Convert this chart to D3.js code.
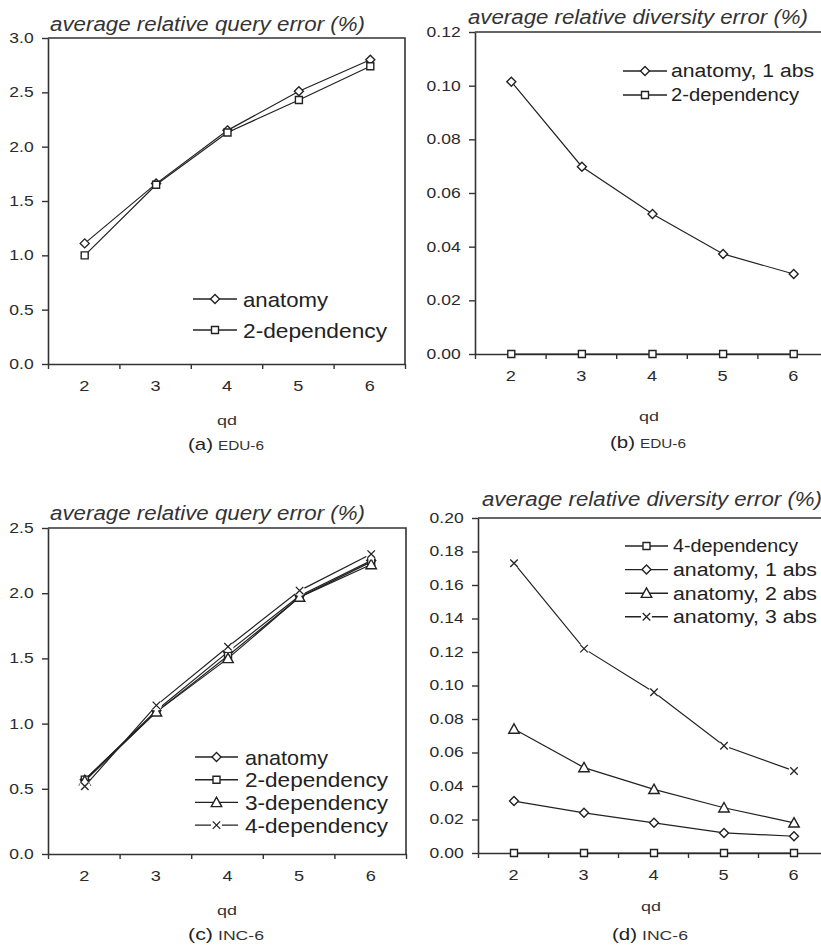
<!DOCTYPE html>
<html>
<head>
<meta charset="utf-8">
<script src="https://cdn.jsdelivr.net/npm/d3@7"></script>
<style>
  body { margin: 0; background: #fff; }
  svg { display: block; font-family: "Liberation Sans", Arial, sans-serif; }
</style>
</head>
<body>
<svg id="chart" width="821" height="949"></svg>
<script>
// ---- data ----
const qd = [2, 3, 4, 5, 6];

// (a) EDU-6, query error
const aAnatomy = [1.11, 1.66, 2.15, 2.51, 2.80];
const aDep2    = [1.00, 1.65, 2.13, 2.43, 2.74];

// (b) EDU-6, diversity error
const bAnatomy1 = [0.1015, 0.0698, 0.0522, 0.0373, 0.0298];
const bDep2     = [0, 0, 0, 0, 0];

// (c) INC-6, query error
const cAnatomy = [0.57, 1.10, 1.55, 1.98, 2.25];
const cDep2    = [0.57, 1.09, 1.52, 1.97, 2.24];
const cDep3    = [0.56, 1.09, 1.50, 1.97, 2.22];
const cDep4    = [0.52, 1.14, 1.59, 2.02, 2.30];

// (d) INC-6, diversity error
const dDep4     = [0, 0, 0, 0, 0];
const dAnatomy1 = [0.031, 0.024, 0.018, 0.012, 0.010];
const dAnatomy2 = [0.074, 0.051, 0.038, 0.027, 0.018];
const dAnatomy3 = [0.173, 0.122, 0.096, 0.064, 0.049];

const yTicksA = [0, 0.5, 1.0, 1.5, 2.0, 2.5, 3.0];
const yTicksB = [0, 0.02, 0.04, 0.06, 0.08, 0.10, 0.12];
const yTicksC = [0, 0.5, 1.0, 1.5, 2.0, 2.5];
const yTicksD = [0, 0.02, 0.04, 0.06, 0.08, 0.10, 0.12, 0.14, 0.16, 0.18, 0.20];

const titleQuery = "average relative query error (%)";
const titleDiv = "average relative diversity error (%)";

// ---- marker shapes ----
const diamond = { draw(ctx, size) { const r = Math.sqrt(size) / 2;
  ctx.moveTo(0, -r); ctx.lineTo(r, 0); ctx.lineTo(0, r); ctx.lineTo(-r, 0); ctx.closePath(); } };
const square = { draw(ctx, size) { const r = Math.sqrt(size) / 2;
  ctx.rect(-r, -r, 2 * r, 2 * r); } };
const triangle = { draw(ctx, size) { const r = Math.sqrt(size) / 2;
  ctx.moveTo(0, -r); ctx.lineTo(r, r * 0.8); ctx.lineTo(-r, r * 0.8); ctx.closePath(); } };
const cross = { draw(ctx, size) { const r = Math.sqrt(size) / 2;
  ctx.moveTo(-r, -r); ctx.lineTo(r, r); ctx.moveTo(r, -r); ctx.lineTo(-r, r); } };

const shapes = {
  diamond: { type: diamond, size: 81 },
  square: { type: square, size: 49 },
  triangle: { type: triangle, size: 110 },
  cross: { type: cross, size: 56 }
};

const svg = d3.select("#chart");
const ink = "#222";

function drawMarker(g, x, y, shape) {
  const s = shapes[shape];
  const p = d3.symbol().type(s.type).size(s.size)();
  if (shape === "cross") {
    g.append("circle").attr("cx", x).attr("cy", y).attr("r", 5.5).attr("fill", "#fff");
    g.append("path").attr("d", p).attr("transform", "translate(" + x + "," + y + ")")
      .attr("fill", "none").attr("stroke", ink).attr("stroke-width", 1.3);
  } else {
    g.append("path").attr("d", p).attr("transform", "translate(" + x + "," + y + ")")
      .attr("fill", "#fff").attr("stroke", ink).attr("stroke-width", 1.4);
  }
}

function fitText(g, x, y, str, size, width, opts) {
  opts = opts || {};
  const t = g.append("text").attr("x", x).attr("y", y)
    .attr("font-size", size).attr("fill", opts.fill || ink)
    .attr("text-anchor", opts.anchor || "start")
    .text(str);
  if (opts.italic) t.attr("font-style", "italic");
  if (width) t.attr("textLength", width).attr("lengthAdjust", "spacingAndGlyphs");
  return t;
}

function panel(cfg) {
  const g = svg.append("g");
  const x = d3.scaleLinear().domain([1.5, 6.5]).range([cfg.left, cfg.right]);
  const y = d3.scaleLinear().domain([0, cfg.yMax]).range([cfg.bottom, cfg.top]);

  // frame (top / right)
  g.append("path")
    .attr("d", "M" + cfg.left + "," + cfg.top + "H" + cfg.right + "V" + cfg.bottom)
    .attr("fill", "none").attr("stroke", "#333").attr("stroke-width", 1.6);

  // y axis
  const ya = g.append("g").attr("transform", "translate(" + cfg.left + ",0)")
    .call(d3.axisLeft(y).tickValues(cfg.yTicks).tickFormat(d3.format(cfg.yFmt))
      .tickSize(6).tickSizeOuter(0).tickPadding(5.5));
  ya.select(".domain").attr("stroke", "#333").attr("stroke-width", 1.6);
  ya.selectAll(".tick line").attr("stroke", "#333").attr("stroke-width", 1.4);
  ya.selectAll("text").attr("font-size", 14).attr("fill", "#2a2a2a")
    .attr("font-family", "Liberation Sans, Arial, sans-serif")
    .attr("transform", "scale(1.25,1)");

  // x axis: boundary ticks + category labels
  const xa = g.append("g").attr("transform", "translate(0," + cfg.bottom + ")")
    .call(d3.axisBottom(x).tickValues([1.5, 2.5, 3.5, 4.5, 5.5, 6.5]).tickFormat("")
      .tickSize(5).tickSizeOuter(0));
  xa.select(".domain").attr("stroke", "#333").attr("stroke-width", 1.6);
  xa.selectAll(".tick line").attr("stroke", "#333").attr("stroke-width", 1.4);
  const xl = g.append("g").attr("transform", "translate(0," + cfg.bottom + ")")
    .call(d3.axisBottom(x).tickValues(qd).tickFormat(d3.format("d")).tickSize(0).tickPadding(17));
  xl.select(".domain").remove();
  xl.selectAll("text").attr("font-size", 14.5).attr("fill", "#2a2a2a")
    .attr("font-family", "Liberation Sans, Arial, sans-serif")
    .attr("transform", "scale(1.25,1)");

  // series
  const line = d3.line().x((d, i) => x(qd[i]) + 1).y(d => y(d));
  cfg.series.forEach(s => {
    g.append("path").datum(s.values).attr("d", line)
      .attr("fill", "none").attr("stroke", ink).attr("stroke-width", 1.2);
  });
  cfg.series.forEach(s => {
    s.values.forEach((v, i) => drawMarker(g, x(qd[i]) + 1, y(v), s.shape));
  });

  // title
  fitText(g, cfg.titleX, cfg.titleY, cfg.title, 20, cfg.titleW, { italic: true, fill: "#333" });

  // legend
  cfg.legend.forEach((e, i) => {
    const cy = cfg.leg.y + i * cfg.leg.dy;
    g.append("line").attr("x1", cfg.leg.x1).attr("x2", cfg.leg.x2)
      .attr("y1", cy).attr("y2", cy).attr("stroke", ink).attr("stroke-width", 1.4);
    drawMarker(g, (cfg.leg.x1 + cfg.leg.x2) / 2, cy, e.shape);
    fitText(g, cfg.leg.tx, cy + cfg.leg.size * 0.36, e.name, cfg.leg.size, e.w);
  });

  // axis name + caption
  const cx = cfg.capX;
  fitText(g, cx, cfg.qdY, "qd", 13.5, 20, { anchor: "middle", fill: "#333" });
  fitText(g, cx - 39, cfg.capY, cfg.capA, 17, 25, { fill: "#222" });
  fitText(g, cx - 9, cfg.capY, cfg.capB, 13.5, 46, { fill: "#333" });
}

panel({
  left: 48, right: 405, top: 38, bottom: 364, yMax: 3.0, yTicks: yTicksA, yFmt: ".1f",
  series: [
    { values: aAnatomy, shape: "diamond" },
    { values: aDep2, shape: "square" }
  ],
  title: titleQuery, titleX: 50, titleY: 31, titleW: 315,
  legend: [
    { name: "anatomy", shape: "diamond", w: 85 },
    { name: "2-dependency", shape: "square", w: 144 }
  ],
  leg: { x1: 193, x2: 237, tx: 243, y: 299, dy: 31, size: 21 },
  capX: 227, qdY: 425, capY: 450, capA: "(a)", capB: "EDU-6"
});

panel({
  left: 475, right: 828, top: 32, bottom: 354, yMax: 0.12, yTicks: yTicksB, yFmt: ".2f",
  series: [
    { values: bAnatomy1, shape: "diamond" },
    { values: bDep2, shape: "square" }
  ],
  title: titleDiv, titleX: 468, titleY: 24, titleW: 340,
  legend: [
    { name: "anatomy, 1 abs", shape: "diamond", w: 143 },
    { name: "2-dependency", shape: "square", w: 128 }
  ],
  leg: { x1: 623, x2: 667, tx: 671, y: 71, dy: 24, size: 18 },
  capX: 649, qdY: 421, capY: 448, capA: "(b)", capB: "EDU-6"
});

panel({
  left: 48, right: 406, top: 528, bottom: 854, yMax: 2.5, yTicks: yTicksC, yFmt: ".1f",
  series: [
    { values: cAnatomy, shape: "diamond" },
    { values: cDep2, shape: "square" },
    { values: cDep3, shape: "triangle" },
    { values: cDep4, shape: "cross" }
  ],
  title: titleQuery, titleX: 50, titleY: 520, titleW: 315,
  legend: [
    { name: "anatomy", shape: "diamond", w: 83 },
    { name: "2-dependency", shape: "square", w: 143 },
    { name: "3-dependency", shape: "triangle", w: 143 },
    { name: "4-dependency", shape: "cross", w: 143 }
  ],
  leg: { x1: 195, x2: 238, tx: 245, y: 757, dy: 22.7, size: 21 },
  capX: 227, qdY: 915, capY: 940, capA: "(c)", capB: "INC-6"
});

panel({
  left: 478, right: 828, top: 518, bottom: 853, yMax: 0.20, yTicks: yTicksD, yFmt: ".2f",
  series: [
    { values: dDep4, shape: "square" },
    { values: dAnatomy1, shape: "diamond" },
    { values: dAnatomy2, shape: "triangle" },
    { values: dAnatomy3, shape: "cross" }
  ],
  title: titleDiv, titleX: 482, titleY: 506, titleW: 340,
  legend: [
    { name: "4-dependency", shape: "square", w: 125 },
    { name: "anatomy, 1 abs", shape: "diamond", w: 144 },
    { name: "anatomy, 2 abs", shape: "triangle", w: 144 },
    { name: "anatomy, 3 abs", shape: "cross", w: 144 }
  ],
  leg: { x1: 625, x2: 668, tx: 673, y: 546, dy: 23.6, size: 18 },
  capX: 651, qdY: 911, capY: 940, capA: "(d)", capB: "INC-6"
});
</script>
</body>
</html>
